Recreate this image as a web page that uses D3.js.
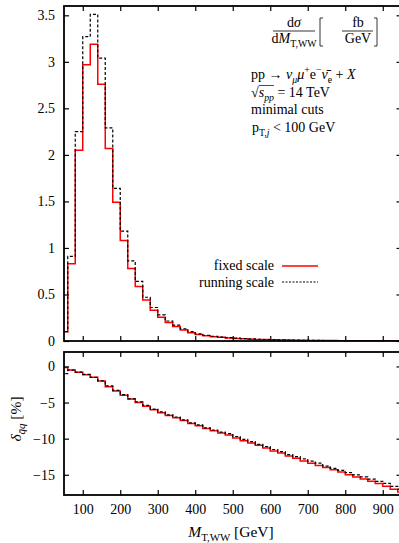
<!DOCTYPE html>
<head>
  <meta charset="utf-8">
  <script src="https://d3js.org/d3.v7.min.js"></script>
  <style>
    body { margin:0; background:#fff; }
    text { font-family:"Liberation Serif","DejaVu Serif",serif; fill:#000; }
  </style>
</head>

<body>
<script>
  // lower bin edges [GeV], 20 GeV bins
  var binLo = [40,60,80,100,120,140,160,180,200,220,240,260,280,300,320,340,360,380,
    400,420,440,460,480,500,520,540,560,580,600,620,640,660,680,700,720,740,760,780,
    800,820,840,860,880,900,920,940];

  // dsigma/dM_T,WW [fb/GeV]
  var fixedScale = [0.10,0.83,2.05,2.97,3.19,2.76,2.07,1.49,1.08,0.78,0.585,0.44,0.33,0.255,0.20,0.155,0.118,0.09,
    0.07,0.057,0.047,0.039,0.033,0.028,0.024,0.020,0.017,0.015,0.013,0.011,0.010,0.0085,0.0075,0.0066,0.0058,0.0051,0.0045,0.004,
    0.0035,0.0031,0.0028,0.0025,0.0022,0.002,0.0018,0.0016];
  var runningScale = [0.10,0.91,2.25,3.27,3.51,3.04,2.29,1.64,1.18,0.86,0.64,0.47,0.36,0.28,0.215,0.17,0.13,0.10,
    0.077,0.062,0.051,0.042,0.036,0.030,0.026,0.022,0.019,0.016,0.014,0.012,0.011,0.0093,0.0082,0.0072,0.0063,0.0056,0.0049,0.0044,
    0.0039,0.0034,0.003,0.0027,0.0024,0.0022,0.002,0.0018];

  // delta_qq [%]
  var fixedDelta = [-0.15,-0.5,-0.8,-1.15,-1.5,-2.0,-2.8,-3.4,-4.0,-4.5,-5.0,-5.5,-6.0,-6.4,-6.8,-7.1,-7.5,-7.9,
    -8.2,-8.6,-8.9,-9.2,-9.5,-9.9,-10.3,-10.6,-10.9,-11.3,-11.7,-12.0,-12.4,-12.7,-13.1,-13.4,-13.7,-14.0,-14.3,-14.6,
    -15.0,-15.3,-15.6,-15.9,-16.2,-16.6,-17.0,-17.4];
  var runningDelta = [-1.0,-0.5,-0.8,-1.1,-1.5,-2.0,-2.7,-3.3,-3.9,-4.5,-4.9,-5.4,-5.9,-6.3,-6.7,-7.0,-7.4,-7.8,
    -8.1,-8.5,-8.8,-9.1,-9.3,-9.7,-10.1,-10.4,-10.8,-11.1,-11.5,-11.8,-12.2,-12.5,-12.8,-13.1,-13.4,-13.8,-14.1,-14.4,
    -14.7,-15.0,-15.3,-15.6,-15.9,-16.2,-16.6,-17.0];

  var xTicks = [100,200,300,400,500,600,700,800,900];
  var topTicks = [0,0.5,1,1.5,2,2.5,3,3.5];
  var topTickLabels = ["0","0.5","1","1.5","2","2.5","3","3.5"];
  var botTicks = [0,-5,-10,-15];

  var width = 399, height = 543;
  var left = 64, right = 401.5;
  var top1 = 6, bot1 = 341, top2 = 352, bot2 = 495;

  var svg = d3.select("body").append("svg")
    .attr("width", width)
    .attr("height", height);

  var x = d3.scaleLinear().domain([50, 950]).range([left, right]);
  var yTop = d3.scaleLinear().domain([0, 3.6]).range([bot1, top1]);
  var yBot = d3.scaleLinear().domain([-17.8, 2]).range([bot2, top2]);

  var defs = svg.append("defs");
  defs.append("clipPath").attr("id", "clipTop").append("rect")
    .attr("x", left).attr("y", top1).attr("width", right - left).attr("height", bot1 - top1);
  defs.append("clipPath").attr("id", "clipBot").append("rect")
    .attr("x", left).attr("y", top2).attr("width", right - left).attr("height", bot2 - top2);

  function stepPoints(vals) {
    var pts = binLo.map(function(b, i) { return [b, vals[i]]; });
    pts.push([binLo[binLo.length - 1] + 20, vals[vals.length - 1]]);
    return pts;
  }

  function drawPanel(clip, y, fixedVals, runVals) {
    var line = d3.line()
      .x(function(d) { return x(d[0]); })
      .y(function(d) { return y(d[1]); })
      .curve(d3.curveStepAfter);
    var g = svg.append("g").attr("clip-path", "url(#" + clip + ")");
    g.append("path").attr("d", line(stepPoints(fixedVals)))
      .attr("fill", "none").attr("stroke", "#ff0000").attr("stroke-width", 1.5);
    g.append("path").attr("d", line(stepPoints(runVals)))
      .attr("fill", "none").attr("stroke", "#000").attr("stroke-width", 1.2)
      .attr("stroke-dasharray", "3,2");
  }

  function frame(y, y0, y1, yt, yLabels) {
    // ticks on all four sides pointing inward
    var ax;
    ax = svg.append("g").attr("transform", "translate(0," + y1 + ")")
      .call(d3.axisBottom(x).tickValues(xTicks).tickSize(-5).tickFormat(""));
    ax.select(".domain").remove();
    ax = svg.append("g").attr("transform", "translate(0," + y0 + ")")
      .call(d3.axisTop(x).tickValues(xTicks).tickSize(-5).tickFormat(""));
    ax.select(".domain").remove();
    ax = svg.append("g").attr("transform", "translate(" + left + ",0)")
      .call(d3.axisLeft(y).tickValues(yt).tickSize(-5).tickPadding(9)
        .tickFormat(function(d, i) { return yLabels ? yLabels[i] : d3.format("")(d); }));
    ax.select(".domain").remove();
    ax.selectAll("text").attr("font-size", 14).attr("font-family", null);
    ax = svg.append("g").attr("transform", "translate(" + right + ",0)")
      .call(d3.axisRight(y).tickValues(yt).tickSize(-5).tickFormat(""));
    ax.select(".domain").remove();
    svg.selectAll(".tick line").attr("stroke-width", 1.2);
    svg.append("rect")
      .attr("x", left).attr("y", y0)
      .attr("width", right - left).attr("height", y1 - y0)
      .attr("fill", "none").attr("stroke", "#000").attr("stroke-width", 1.8);
  }

  drawPanel("clipTop", yTop, fixedScale, runningScale);
  drawPanel("clipBot", yBot, fixedDelta, runningDelta);
  frame(yTop, top1, bot1, topTicks, topTickLabels);
  frame(yBot, top2, bot2, botTicks, null);

  // x tick labels under lower panel
  var xl = svg.append("g").attr("transform", "translate(0," + bot2 + ")")
    .call(d3.axisBottom(x).tickValues(xTicks).tickSize(0).tickPadding(9));
  xl.select(".domain").remove();
  xl.selectAll("text").attr("font-size", 14).attr("font-family", null);

  // text with italic / sub / sup pieces
  function rich(parent, px, py, parts, size, anchor) {
    var t = parent.append("text").attr("x", px).attr("y", py)
      .attr("font-size", size).attr("text-anchor", anchor || "start");
    var cur = 0;
    parts.forEach(function(p) {
      var off = p.s === "sub" ? size * 0.28 : p.s === "sup" ? -size * 0.4 : 0;
      var ts = t.append("tspan").text(p.t).attr("dy", off - cur);
      if (p.s) ts.attr("font-size", size * 0.7);
      if (p.i) ts.attr("font-style", "italic");
      cur = off;
    });
    return t;
  }

  // axis labels
  rich(svg, 231, 537, [{t:"M", i:1}, {t:"T,WW", s:"sub"}, {t:" [GeV]"}], 15.5, "middle");
  var yl = svg.append("g").attr("transform", "translate(21,419) rotate(-90)");
  rich(yl, 0, 0, [{t:"δ", i:1}, {t:"q̄q", i:1, s:"sub"}, {t:" [%]"}], 15.5, "middle");

  // d sigma / d M  [fb/GeV]
  rich(svg, 294, 27, [{t:"d"}, {t:"σ", i:1}], 14, "middle");
  svg.append("line").attr("x1", 273).attr("x2", 315).attr("y1", 31).attr("y2", 31)
    .attr("stroke", "#000").attr("stroke-width", 0.8);
  rich(svg, 294, 43, [{t:"d"}, {t:"M", i:1}, {t:"T,WW", s:"sub"}], 14, "middle");
  svg.append("path").attr("d", "M323,18H320V46H323M374,18H377V46H374")
    .attr("fill", "none").attr("stroke", "#000").attr("stroke-width", 0.8);
  rich(svg, 358, 27, [{t:"fb"}], 14, "middle");
  svg.append("line").attr("x1", 342).attr("x2", 373).attr("y1", 31).attr("y2", 31)
    .attr("stroke", "#000").attr("stroke-width", 0.8);
  rich(svg, 358, 43, [{t:"GeV"}], 14, "middle");

  // process info
  rich(svg, 251, 79, [{t:"pp → "}, {t:"ν", i:1}, {t:"μ", i:1, s:"sub"}, {t:"μ", i:1}, {t:"+", s:"sup"},
    {t:"e"}, {t:"−", s:"sup"}, {t:"ν̄", i:1}, {t:"e", s:"sub"}, {t:" + "}, {t:"X", i:1}], 14);
  var sq = rich(svg, 251, 97, [{t:"√"}, {t:"s", i:1}, {t:"pp", i:1, s:"sub"}, {t:" = 14 TeV"}], 14);
  var spans = sq.selectAll("tspan").nodes();
  var sx0 = 251 + spans[0].getComputedTextLength();
  var sx1 = sx0 + spans[1].getComputedTextLength() + spans[2].getComputedTextLength();
  svg.append("line").attr("x1", sx0).attr("x2", sx1).attr("y1", 85.5).attr("y2", 85.5)
    .attr("stroke", "#000").attr("stroke-width", 0.7);
  rich(svg, 251, 114, [{t:"minimal cuts"}], 14);
  rich(svg, 252, 132, [{t:"p"}, {t:"T,", s:"sub"}, {t:"j", i:1, s:"sub"}, {t:" < 100 GeV"}], 14);

  // legend
  rich(svg, 274, 270, [{t:"fixed scale"}], 14, "end");
  rich(svg, 274, 287, [{t:"running scale"}], 14, "end");
  svg.append("line").attr("x1", 282).attr("x2", 318).attr("y1", 266).attr("y2", 266)
    .attr("stroke", "#ff0000").attr("stroke-width", 1.5);
  svg.append("line").attr("x1", 282).attr("x2", 318).attr("y1", 282).attr("y2", 282)
    .attr("stroke", "#000").attr("stroke-width", 1.2).attr("stroke-dasharray", "2,1.5");
</script>
</body>
